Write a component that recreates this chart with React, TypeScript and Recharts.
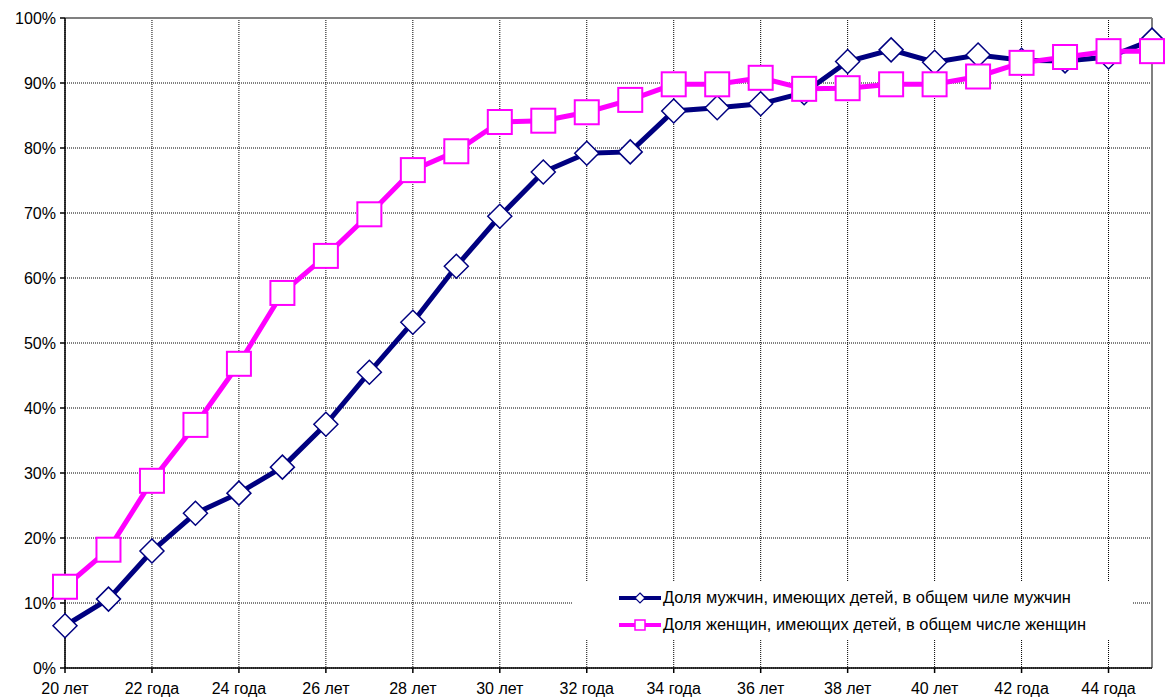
import React from 'react';
import {
  LineChart,
  Line,
  XAxis,
  YAxis,
  CartesianGrid,
  ReferenceLine
} from 'recharts';

const ages = [20, 21, 22, 23, 24, 25, 26, 27, 28, 29, 30, 31, 32, 33, 34, 35, 36, 37, 38, 39, 40, 41, 42, 43, 44, 45];

const men = [6.5, 10.6, 18.0, 23.8, 26.9, 30.9, 37.5, 45.5, 53.2, 61.8, 69.5, 76.3, 79.2, 79.4, 85.7, 86.2, 86.8, 88.5, 93.3, 95.1, 93.2, 94.3, 93.5, 93.4, 94.0, 96.6];

const women = [12.5, 18.2, 28.8, 37.4, 46.8, 57.7, 63.4, 69.8, 76.6, 79.5, 84.0, 84.2, 85.5, 87.4, 89.8, 89.8, 90.8, 89.1, 89.2, 89.8, 89.8, 91.0, 93.1, 94.0, 94.9, 94.9];

const xTicks = [20, 22, 24, 26, 28, 30, 32, 34, 36, 38, 40, 42, 44];
const xTickLabels = ['20 лет', '22 года', '24 года', '26 лет', '28 лет', '30 лет', '32 года', '34 года', '36 лет', '38 лет', '40 лет', '42 года', '44 года'];
const yTicks = [0, 10, 20, 30, 40, 50, 60, 70, 80, 90, 100];

const menName = 'Доля мужчин, имеющих детей, в общем чиле мужчин';
const womenName = 'Доля женщин, имеющих детей, в общем числе женщин';

const NAVY = '#000080';
const MAGENTA = '#FF00FF';
const FONT = 'Liberation Sans, Arial, sans-serif';

const data = ages.map((age, i) => ({ age, men: men[i], women: women[i] }));

const Diamond = (props: any) => {
  const { cx, cy } = props;
  if (cx == null || cy == null) return null;
  const r = 12;
  return (
    <polygon
      points={`${cx},${cy - r} ${cx + r},${cy} ${cx},${cy + r} ${cx - r},${cy}`}
      fill="#fff"
      stroke={NAVY}
      strokeWidth={1.5}
    />
  );
};

const Square = (props: any) => {
  const { cx, cy } = props;
  if (cx == null || cy == null) return null;
  const s = 12;
  return <rect x={cx - s} y={cy - s} width={s * 2} height={s * 2} fill="#fff" stroke={MAGENTA} strokeWidth={2} />;
};

// legend sits over the plot, like the Excel original
const LegendBox = () => (
  <div
    style={{
      position: 'absolute',
      left: 573,
      top: 581,
      width: 560,
      height: 59,
      background: '#fff',
      fontFamily: FONT,
      fontSize: 16.4,
      color: '#000'
    }}
  >
    {[
      { name: menName, color: NAVY, marker: 'diamond' },
      { name: womenName, color: MAGENTA, marker: 'square' }
    ].map((item, i) => (
      <div key={i} style={{ display: 'flex', alignItems: 'center', height: 27, paddingLeft: 46, paddingTop: i === 0 ? 3 : 0 }}>
        <svg width={44} height={14}>
          <line x1={0} y1={7} x2={42} y2={7} stroke={item.color} strokeWidth={4} />
          {item.marker === 'diamond' ? (
            <polygon points="21,2 26,7 21,12 16,7" fill="#fff" stroke={item.color} strokeWidth={1.2} />
          ) : (
            <rect x={16} y={2} width={10} height={10} fill="#fff" stroke={item.color} strokeWidth={1.5} />
          )}
        </svg>
        <span>{item.name}</span>
      </div>
    ))}
  </div>
);

const App: React.FC = () => {
  const fmtX = (v: number) => {
    const idx = xTicks.indexOf(v);
    return idx >= 0 ? xTickLabels[idx] : '';
  };

  return (
    <div style={{ position: 'absolute', left: 0, top: 0, width: 1166, height: 700, background: '#fff' }}>
      <LineChart
        width={1166}
        height={700}
        data={data}
        margin={{ top: 18, right: 14, left: 0, bottom: 0 }}
        style={{ fontFamily: FONT }}
      >
        <CartesianGrid stroke="#000" strokeDasharray="1 1" strokeWidth={1} />
        <XAxis
          dataKey="age"
          type="number"
          domain={[20, 45]}
          ticks={xTicks}
          tickFormatter={fmtX}
          height={32}
          stroke="#000"
          strokeWidth={1.5}
          tickSize={5}
          tickMargin={10}
          tick={{ fill: '#000', fontSize: 16 }}
          interval={0}
        />
        <YAxis
          domain={[0, 100]}
          ticks={yTicks}
          tickFormatter={(v: number) => `${v}%`}
          width={65}
          stroke="#000"
          strokeWidth={1.5}
          tickSize={5}
          tickMargin={4}
          tick={{ fill: '#000', fontSize: 16 }}
          interval={0}
        />
        <ReferenceLine y={100} stroke="#808080" strokeWidth={2} />
        <ReferenceLine x={45} stroke="#808080" strokeWidth={2} />
        <Line
          dataKey="men"
          name={menName}
          stroke={NAVY}
          strokeWidth={5}
          dot={(p: any) => <Diamond key={`m-${p.index}`} {...p} />}
          isAnimationActive={false}
        />
        <Line
          dataKey="women"
          name={womenName}
          stroke={MAGENTA}
          strokeWidth={5}
          dot={(p: any) => <Square key={`w-${p.index}`} {...p} />}
          isAnimationActive={false}
        />
      </LineChart>
      <LegendBox />
    </div>
  );
};

export default App;
